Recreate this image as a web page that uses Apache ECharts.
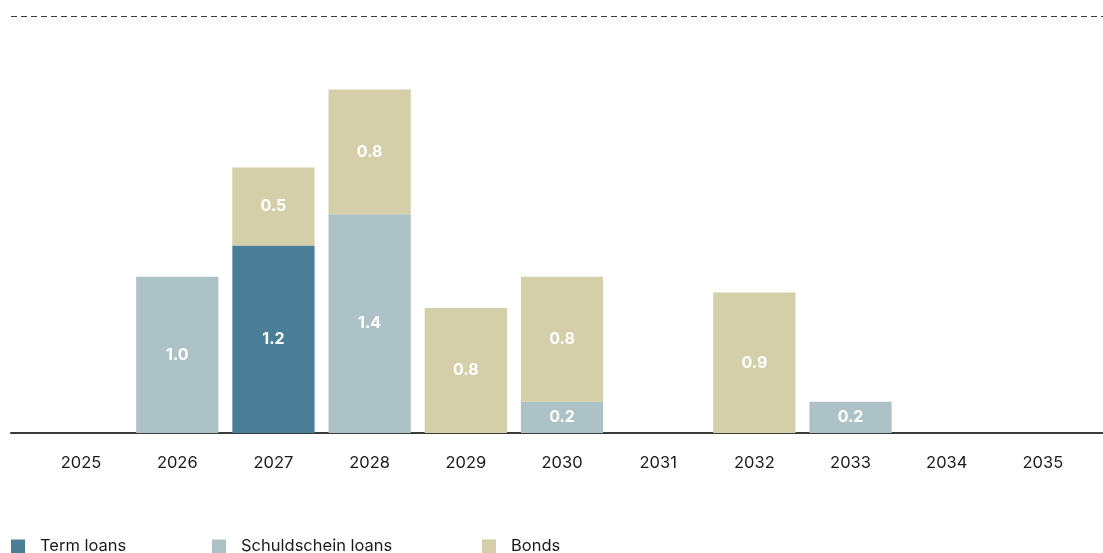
<!DOCTYPE html>
<html>
<head>
<meta charset="utf-8">
<script src="https://cdn.jsdelivr.net/npm/echarts@6/dist/echarts.min.js"></script>
<style>
  html, body { margin: 0; padding: 0; background: #ffffff; }
  #chart { width: 1103px; height: 553px; }
</style>
</head>
<body>
<div id="chart"></div>
<script>
// Maturity profile of financial liabilities (EUR bn)
const years = ['2025', '2026', '2027', '2028', '2029', '2030', '2031', '2032', '2033', '2034', '2035'];
const termLoans = [null, null, 1.2, null, null, null, null, null, null, null, null];
const schuldscheinLoans = [null, 1.0, null, 1.4, null, 0.2, null, null, 0.2, null, null];
const bonds = [null, null, 0.5, 0.8, 0.8, 0.8, null, 0.9, null, null, null];
const seriesNames = ['Term loans', 'Schuldschein loans', 'Bonds'];
const colors = ['#4a7d96', '#adc2c7', '#d4cea9'];

const FONT = 'Inter, Liberation Sans, Arial, sans-serif';
const GRID_TOP = 16, GRID_BOTTOM = 120;
const Y_MAX = 2.67;
const legendLefts = [11, 212, 482];

const chart = echarts.init(document.getElementById('chart'), null, { renderer: 'canvas' });

const barLabel = {
  show: true,
  position: 'inside',
  color: '#ffffff',
  fontFamily: FONT,
  fontWeight: 'bold',
  fontSize: 16,
  formatter: p => p.value == null ? '' : Number(p.value).toFixed(1)
};

function barSeries(name, data, color) {
  return {
    name, type: 'bar', stack: 'total', data,
    xAxisIndex: 0, yAxisIndex: 0,
    barCategoryGap: '14.5%',
    itemStyle: { color },
    label: barLabel,
    emphasis: { disabled: true }
  };
}

// one legend block per series, laid out in a row
const legends = seriesNames.map((name, i) => ({
  data: [name],
  left: legendLefts[i],
  top: 538,
  padding: 0,
  itemWidth: 14,
  itemHeight: 14,
  icon: 'rect',
  textStyle: { color: '#1a1a1a', fontFamily: FONT, fontSize: 16.5, padding: [0, 0, 0, 10] },
  selectedMode: false
}));

chart.setOption({
  animation: false,
  backgroundColor: '#ffffff',
  color: colors,
  grid: [
    // plotting area for the bars
    { left: 33, right: 12, top: GRID_TOP, bottom: GRID_BOTTOM, containLabel: false },
    // full-width frame carrying the baseline and the dashed top rule
    { left: 11, right: 0, top: GRID_TOP, bottom: GRID_BOTTOM, containLabel: false }
  ],
  xAxis: [
    {
      type: 'category', gridIndex: 0, data: years,
      axisLine: { show: false },
      axisTick: { show: false },
      axisLabel: { color: '#1a1a1a', fontFamily: FONT, fontSize: 16.5, margin: 22 }
    },
    {
      type: 'category', gridIndex: 1, data: [''],
      axisLine: { show: true, lineStyle: { color: '#3a3a3a', width: 2 } },
      axisTick: { show: false },
      axisLabel: { show: false }
    }
  ],
  yAxis: [
    {
      type: 'value', gridIndex: 0, min: 0, max: Y_MAX,
      axisLine: { show: false }, axisTick: { show: false },
      axisLabel: { show: false }, splitLine: { show: false }
    },
    {
      type: 'value', gridIndex: 1, min: 0, max: 1, interval: 1,
      axisLine: { show: false }, axisTick: { show: false },
      axisLabel: { show: false },
      splitLine: {
        show: true,
        lineStyle: { color: '#3a3a3a', width: 1, type: [6, 4] }
      }
    }
  ],
  legend: legends,
  series: [
    barSeries(seriesNames[0], termLoans, colors[0]),
    barSeries(seriesNames[1], schuldscheinLoans, colors[1]),
    barSeries(seriesNames[2], bonds, colors[2])
  ]
});
</script>
</body>
</html>
